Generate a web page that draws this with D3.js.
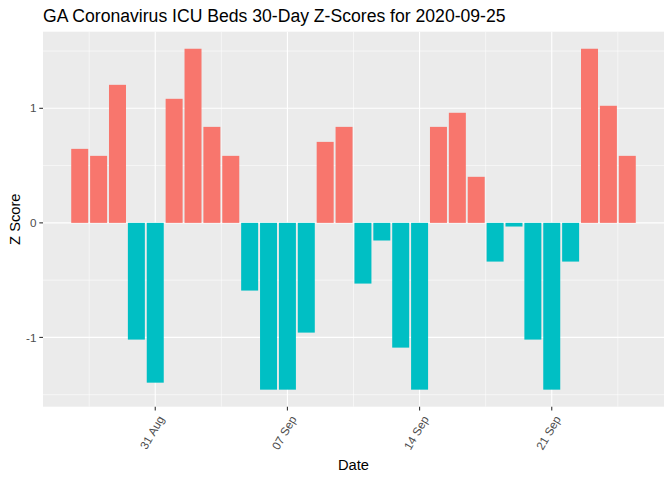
<head><meta charset="utf-8"></head>
<body style="margin:0">
    <style>
        body { background: white; }
        text { font-family: 'Liberation Sans', Arial, sans-serif; }
    </style>
    <svg id="chart" width="672" height="480"></svg>
    <script src="https://d3js.org/d3.v7.min.js"></script>
    <script>
        // one z-score per day, 27 Aug .. 25 Sep 2020
        var startDate = "2020-08-27";
        var zScores = [0.646, 0.585, 1.205, -1.019, -1.395, 1.083, 1.520, 0.838, 0.585, -0.591,
                       -1.456, -1.456, -0.958, 0.707, 0.838, -0.530, -0.154, -1.089, -1.456, 0.838,
                       0.961, 0.402, -0.338, -0.032, -1.019, -1.456, -0.338, 1.520, 1.022, 0.585];
        var xTickLabels = ["31 Aug", "07 Sep", "14 Sep", "21 Sep"];
        var yTicks = [-1, 0, 1];
        var yMinor = [-1.5, -0.5, 0.5, 1.5];

        var DAY = 86400000;
        var t0 = Date.parse(startDate + "T00:00:00Z");
        var data = zScores.map((v, i) => ({date: new Date(t0 + i * DAY), value: v}));

        var svg = d3.select("#chart");
        var panel = {left: 43, right: 664, top: 31.7, bottom: 406.7};

        // ggplot-ish expansion: bar half width 0.45 day, then 5% on each side
        var lo = t0 - 0.45 * DAY, hi = t0 + (zScores.length - 1) * DAY + 0.45 * DAY;
        var pad = (hi - lo) * 0.05;
        var x = d3.scaleUtc().domain([lo - pad, hi + pad]).range([panel.left, panel.right]);

        var ymin = d3.min(zScores), ymax = d3.max(zScores);
        var ypad = (ymax - ymin) * 0.05;
        var y = d3.scaleLinear().domain([ymin - ypad, ymax + ypad]).range([panel.bottom, panel.top]);

        svg.append("rect")
            .attr("x", panel.left).attr("y", panel.top)
            .attr("width", panel.right - panel.left).attr("height", panel.bottom - panel.top)
            .attr("fill", "#EBEBEB");

        var majorDates = xTickLabels.map(s => d3.utcParse("%d %b %Y")(s + " 2020"));
        var minorDates = [];
        minorDates.push(new Date(+majorDates[0] - 3.5 * DAY));
        majorDates.forEach(d => minorDates.push(new Date(+d + 3.5 * DAY)));

        var grid = svg.append("g");
        grid.selectAll(".vminor").data(minorDates).join("line")
            .attr("x1", d => x(d)).attr("x2", d => x(d))
            .attr("y1", panel.top).attr("y2", panel.bottom)
            .attr("stroke", "white").attr("stroke-width", 0.55);
        grid.selectAll(".hminor").data(yMinor).join("line")
            .attr("x1", panel.left).attr("x2", panel.right)
            .attr("y1", d => y(d)).attr("y2", d => y(d))
            .attr("stroke", "white").attr("stroke-width", 0.55);
        grid.selectAll(".vmajor").data(majorDates).join("line")
            .attr("x1", d => x(d)).attr("x2", d => x(d))
            .attr("y1", panel.top).attr("y2", panel.bottom)
            .attr("stroke", "white").attr("stroke-width", 1.1);
        grid.selectAll(".hmajor").data(yTicks).join("line")
            .attr("x1", panel.left).attr("x2", panel.right)
            .attr("y1", d => y(d)).attr("y2", d => y(d))
            .attr("stroke", "white").attr("stroke-width", 1.1);

        var barW = x(new Date(t0 + 0.9 * DAY)) - x(new Date(t0));
        svg.append("g").selectAll("rect").data(data).join("rect")
            .attr("x", d => x(d.date) - barW / 2)
            .attr("width", barW)
            .attr("y", d => y(Math.max(0, d.value)))
            .attr("height", d => Math.abs(y(d.value) - y(0)))
            .attr("fill", d => d.value >= 0 ? "#F8766D" : "#00BFC4");

        // x axis
        var xa = svg.append("g");
        xa.selectAll("line").data(majorDates).join("line")
            .attr("x1", d => x(d)).attr("x2", d => x(d))
            .attr("y1", panel.bottom).attr("y2", panel.bottom + 3.7)
            .attr("stroke", "#333333").attr("stroke-width", 1.1);
        xa.selectAll("text").data(majorDates).join("text")
            .attr("transform", d => `translate(${x(d) + 6},${panel.bottom + 10}) rotate(-60)`)
            .attr("text-anchor", "end")
            .attr("dy", "0.35em")
            .attr("font-size", 11.7)
            .attr("fill", "#4D4D4D")
            .text((d, i) => xTickLabels[i]);

        // y axis
        var ya = svg.append("g");
        ya.selectAll("line").data(yTicks).join("line")
            .attr("x1", panel.left - 3.7).attr("x2", panel.left)
            .attr("y1", d => y(d)).attr("y2", d => y(d))
            .attr("stroke", "#333333").attr("stroke-width", 1.1);
        ya.selectAll("text").data(yTicks).join("text")
            .attr("x", panel.left - 6.6)
            .attr("y", d => y(d))
            .attr("dy", "0.35em")
            .attr("text-anchor", "end")
            .attr("font-size", 11.7)
            .attr("fill", "#4D4D4D")
            .text(d => String(d));

        svg.append("text")
            .attr("x", (panel.left + panel.right) / 2)
            .attr("y", 470)
            .attr("text-anchor", "middle")
            .attr("font-size", 14.7)
            .text("Date");

        svg.append("text")
            .attr("transform", `translate(20,${(panel.top + panel.bottom) / 2}) rotate(-90)`)
            .attr("text-anchor", "middle")
            .attr("font-size", 14.7)
            .text("Z Score");

        svg.append("text")
            .attr("x", panel.left)
            .attr("y", 21.7)
            .attr("font-size", 17.6)
            .text("GA Coronavirus ICU Beds 30-Day Z-Scores for 2020-09-25");
    </script>
</body>
